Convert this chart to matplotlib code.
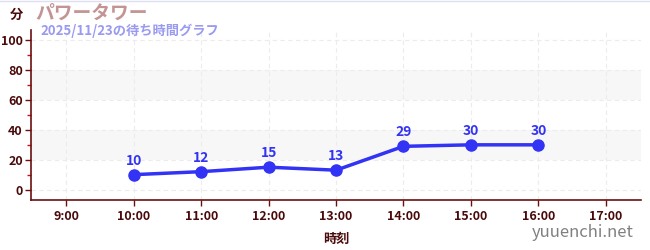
import numpy as np
from matplotlib import pyplot as plt

plt.rcParams['font.family'] = ['Noto Sans CJK JP', 'DejaVu Sans']

# data
times = ["10:00", "11:00", "12:00", "13:00", "14:00", "15:00", "16:00"]
waits = [10, 12, 15, 13, 29, 30, 30]
tick_labels = ["9:00", "10:00", "11:00", "12:00", "13:00", "14:00", "15:00", "16:00", "17:00"]

title = "パワータワー"
subtitle = "2025/11/23の待ち時間グラフ"

dark = '#4a0a0a'
spine_c = '#6b0f0f'
line_c = '#3333f5'

hours = [int(t.split(":")[0]) for t in times]
tick_hours = [int(t.split(":")[0]) for t in tick_labels]

fig = plt.figure(figsize=(6.5, 2.5), dpi=100)
ax = fig.add_axes([0.048, 0.2, 0.938, 0.68])

ax.set_xlim(8.48, 17.52)
ax.set_ylim(-7, 107)

# background bands
for lo, hi in [(20, 40), (60, 80)]:
    ax.axhspan(lo, hi, color='#f7f7f7', zorder=0, lw=0)

ax.set_yticks(np.arange(0, 101, 20))
ax.set_yticks(np.arange(10, 100, 20), minor=True)
ax.set_xticks(tick_hours)
ax.set_xticklabels(tick_labels)
ax.grid(True, which='major', color='#ececec', linestyle=(0, (4, 3)), lw=0.8, zorder=0.5)

ax.tick_params(axis='both', which='major', colors=spine_c, labelcolor=dark,
               labelsize=9, length=4, width=1)
ax.tick_params(axis='y', which='major', pad=2)
ax.tick_params(axis='y', which='minor', colors='#d01010', length=3, width=1)
for lab in ax.get_xticklabels() + ax.get_yticklabels():
    lab.set_fontweight('bold')

for s in ['top', 'right']:
    ax.spines[s].set_visible(False)
for s in ['left', 'bottom']:
    ax.spines[s].set_color(spine_c)
    ax.spines[s].set_linewidth(1.2)

ax.plot(hours, waits, color=line_c, lw=2.5, marker='o', markersize=8, zorder=3, clip_on=False)
for h, w in zip(hours, waits):
    ax.annotate(str(w), (h, w), xytext=(0, 5), textcoords='offset points',
                ha='center', va='bottom', color=line_c, fontsize=10, fontweight='bold')

ax.set_xlabel("時刻", color=dark, fontsize=9.5, fontweight='bold', labelpad=6)

fig.text(0.015, 0.94, "分", color=dark, fontsize=9.5, fontweight='bold', va='center')
fig.text(0.054, 0.948, title, color='#c49494', fontsize=13.5, fontweight='bold', va='center')
fig.text(0.062, 0.875, subtitle, color='#9a9af0', fontsize=9.5, fontweight='bold', va='center')
fig.text(0.975, 0.07, "yuuenchi.net", color='#808080', fontsize=12, ha='right', va='center')

fig.add_artist(plt.Line2D([0, 1], [0.998, 0.998], color='#dde0f0', lw=1))

fig.savefig("out.png", dpi=100)
